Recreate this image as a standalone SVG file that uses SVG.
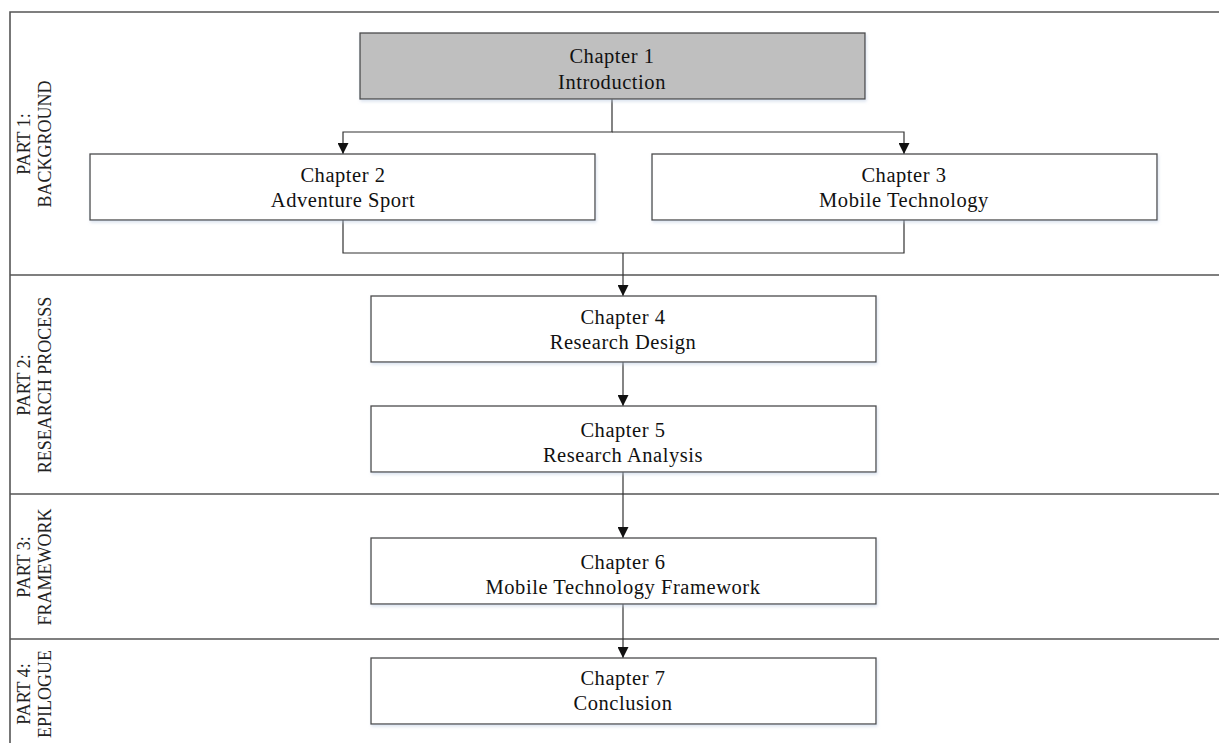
<svg xmlns="http://www.w3.org/2000/svg" width="1219" height="743" viewBox="0 0 1219 743">
<style>
.box{fill:#ffffff;stroke:#4a4a4a;stroke-width:1.3;filter:url(#sh)}
.grey{fill:#bfbfbf}
.t{font-family:"Liberation Serif","Times New Roman",serif;font-size:20.5px;fill:#111;text-anchor:middle;letter-spacing:0.55px}
.s{font-family:"Liberation Serif","Times New Roman",serif;font-size:18px;fill:#222;text-anchor:middle}
.frame{fill:none;stroke:#555;stroke-width:1.6}
.c{fill:none;stroke:#333;stroke-width:1.2}
</style>
<defs>
<filter id="sh" x="-5%" y="-10%" width="110%" height="130%">
<feDropShadow dx="1" dy="2" stdDeviation="1.5" flood-color="#b8c8e0" flood-opacity="0.5"/>
</filter>
<marker id="ah" markerWidth="11" markerHeight="11" refX="11" refY="5.5" orient="auto" markerUnits="userSpaceOnUse">
<path d="M0,0 L11,5.5 L0,11 Z" fill="#111"/>
</marker>
</defs>
<rect width="1219" height="743" fill="#ffffff"/>
<g id="frame">
<path class="frame" d="M1219,12 H10 V743"/>
<path class="frame" d="M10,275 H1219 M10,494 H1219 M10,639 H1219"/>
</g>
<g id="labels">
<text class="s" transform="translate(30,144) rotate(-90)">PART 1:</text>
<text class="s" transform="translate(51,144) rotate(-90)">BACKGROUND</text>
<text class="s" transform="translate(30,385) rotate(-90)">PART 2:</text>
<text class="s" transform="translate(51,385) rotate(-90)">RESEARCH PROCESS</text>
<text class="s" transform="translate(30,567) rotate(-90)">PART 3:</text>
<text class="s" transform="translate(51,567) rotate(-90)">FRAMEWORK</text>
<text class="s" transform="translate(30,694) rotate(-90)">PART 4:</text>
<text class="s" transform="translate(51,694) rotate(-90)">EPILOGUE</text>
</g>
<g id="connectors">
<path class="c" d="M612,99 V132 H343 V154" marker-end="url(#ah)"/>
<path class="c" d="M612,132 H904 V154" marker-end="url(#ah)"/>
<path class="c" d="M343,220 V253 H904 V220"/>
<path class="c" d="M623,253 V296" marker-end="url(#ah)"/>
<path class="c" d="M623,362 V406" marker-end="url(#ah)"/>
<path class="c" d="M623,472 V538" marker-end="url(#ah)"/>
<path class="c" d="M623,604 V658" marker-end="url(#ah)"/>
</g>
<g id="ch1">
<rect class="box grey" x="360" y="33" width="505" height="66"/>
<text class="t" x="612" y="63">Chapter 1</text>
<text class="t" x="612" y="89">Introduction</text>
</g>
<g id="ch2">
<rect class="box" x="90" y="154" width="505" height="66"/>
<text class="t" x="343" y="182">Chapter 2</text>
<text class="t" x="343" y="207">Adventure Sport</text>
</g>
<g id="ch3">
<rect class="box" x="652" y="154" width="505" height="66"/>
<text class="t" x="904" y="182">Chapter 3</text>
<text class="t" x="904" y="207">Mobile Technology</text>
</g>
<g id="ch4">
<rect class="box" x="371" y="296" width="505" height="66"/>
<text class="t" x="623" y="324">Chapter 4</text>
<text class="t" x="623" y="349">Research Design</text>
</g>
<g id="ch5">
<rect class="box" x="371" y="406" width="505" height="66"/>
<text class="t" x="623" y="437">Chapter 5</text>
<text class="t" x="623" y="462">Research Analysis</text>
</g>
<g id="ch6">
<rect class="box" x="371" y="538" width="505" height="66"/>
<text class="t" x="623" y="569">Chapter 6</text>
<text class="t" x="623" y="594">Mobile Technology Framework</text>
</g>
<g id="ch7">
<rect class="box" x="371" y="658" width="505" height="66"/>
<text class="t" x="623" y="685">Chapter 7</text>
<text class="t" x="623" y="710">Conclusion</text>
</g>
</svg>
